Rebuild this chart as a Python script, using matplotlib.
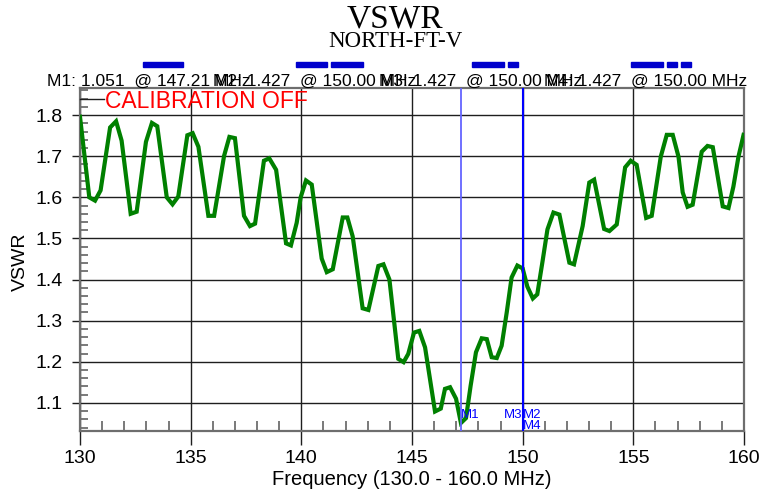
import matplotlib
matplotlib.use("Agg")
import matplotlib.pyplot as plt
from matplotlib.patches import Rectangle
from matplotlib.ticker import MultipleLocator

# ---- data ----
freq_mhz = [130.00, 130.42, 130.68, 130.93, 131.36, 131.63, 131.88, 132.29, 132.56, 132.98,
            133.25, 133.49, 133.92, 134.18, 134.44, 134.85, 135.09, 135.35, 135.80, 136.06,
            136.51, 136.75, 137.00, 137.41, 137.68, 137.91, 138.31, 138.55, 138.86, 139.31,
            139.53, 139.79, 139.97, 140.21, 140.47, 140.92, 141.15, 141.42, 141.87, 142.08,
            142.32, 142.77, 143.03, 143.48, 143.71, 143.98, 144.38, 144.62, 144.83, 145.09,
            145.33, 145.59, 146.04, 146.30, 146.49, 146.72, 146.99, 147.21, 147.44, 147.65,
            147.89, 148.15, 148.38, 148.60, 148.83, 149.05, 149.28, 149.50, 149.76, 150.00,
            150.21, 150.46, 150.66, 150.90, 151.12, 151.39, 151.66, 152.11, 152.32, 152.71,
            153.01, 153.23, 153.68, 153.92, 154.25, 154.63, 154.88, 155.15, 155.58, 155.83,
            156.24, 156.51, 156.78, 157.04, 157.23, 157.45, 157.68, 158.09, 158.35, 158.59,
            159.04, 159.30, 159.52, 159.75, 159.98]
vswr = [1.796, 1.600, 1.592, 1.617, 1.770, 1.785, 1.738, 1.560, 1.565, 1.735,
        1.781, 1.773, 1.600, 1.583, 1.602, 1.751, 1.756, 1.723, 1.555, 1.555,
        1.701, 1.747, 1.744, 1.555, 1.530, 1.536, 1.689, 1.695, 1.667, 1.488,
        1.483, 1.538, 1.600, 1.641, 1.631, 1.451, 1.418, 1.425, 1.551, 1.551,
        1.505, 1.330, 1.326, 1.433, 1.437, 1.400, 1.207, 1.199, 1.219, 1.271,
        1.275, 1.235, 1.079, 1.086, 1.134, 1.138, 1.110, 1.051, 1.063, 1.142,
        1.223, 1.257, 1.255, 1.211, 1.209, 1.239, 1.320, 1.405, 1.434, 1.427,
        1.383, 1.354, 1.364, 1.445, 1.522, 1.563, 1.558, 1.441, 1.437, 1.530,
        1.636, 1.643, 1.523, 1.518, 1.534, 1.673, 1.689, 1.679, 1.550, 1.555,
        1.699, 1.752, 1.752, 1.699, 1.612, 1.577, 1.582, 1.711, 1.725, 1.722,
        1.578, 1.574, 1.626, 1.699, 1.752]

x_ticks = [130, 135, 140, 145, 150, 155, 160]
y_ticks = [1.1, 1.2, 1.3, 1.4, 1.5, 1.6, 1.7, 1.8]

marker_names = ["M1", "M2", "M3", "M4"]
marker_freqs = [147.21, 150.00, 150.00, 150.00]
marker_vals = [1.051, 1.427, 1.427, 1.427]

title = "VSWR"
subtitle = "NORTH-FT-V"
xlabel = "Frequency (130.0 - 160.0 MHz)"
ylabel = "VSWR"
note = "CALIBRATION OFF"

SANS = ["Liberation Sans", "DejaVu Sans"]
SERIF = ["Liberation Serif", "DejaVu Serif"]
plt.rcParams["font.family"] = SANS

W, H = 779, 495
fig = plt.figure(figsize=(W / 100, H / 100), dpi=100)
L, R, T, B = 80, 744, 88, 431
ax = fig.add_axes([L / W, 1 - B / H, (R - L) / W, (B - T) / H])
ax.set_xlim(130, 160)
ax.set_ylim(1.0315, 1.866)

ax.set_axisbelow(True)
ax.grid(True, which="major", color="#1e1e1e", lw=1.0)
for s in ax.spines.values():
    s.set_color("#6e6e6e")
    s.set_linewidth(1.6)

ax.set_xticks(x_ticks)
ax.set_xticklabels([str(t) for t in x_ticks])
ax.set_yticks(y_ticks)
ax.set_yticklabels([f"{t:.1f}" for t in y_ticks])
ax.xaxis.set_minor_locator(MultipleLocator(1))
ax.yaxis.set_minor_locator(MultipleLocator(0.02))
ax.tick_params(axis="x", which="major", direction="out", length=10, width=1,
               color="#1e1e1e", labelsize=14, pad=3.5)
ax.tick_params(axis="y", which="major", direction="out", length=6, width=1,
               color="#1e1e1e", labelsize=14, pad=6.5)
ax.tick_params(axis="x", which="minor", direction="in", length=7.2, width=1.3,
               color="#6e6e6e")
ax.tick_params(axis="y", which="minor", direction="in", length=5.8, width=1.3,
               color="#6e6e6e")

ax.plot(freq_mhz, vswr, color="#008000", lw=3.0, solid_joinstyle="miter", zorder=3)

# marker lines
ax.axvline(marker_freqs[0], color="#6464ff", lw=1.3, zorder=4)
ax.axvline(marker_freqs[1], color="#0000ff", lw=1.5, zorder=4)
mk = dict(color="#0000ff", fontsize=9.5, zorder=5)
ax.text(marker_freqs[0], 1.064, marker_names[0], ha="left", va="baseline", **mk)
ax.text(marker_freqs[2], 1.064, marker_names[2], ha="right", va="baseline", **mk)
ax.text(marker_freqs[1], 1.064, marker_names[1], ha="left", va="baseline", **mk)
ax.text(marker_freqs[3], 1.037, marker_names[3], ha="left", va="baseline", **mk)

# calibration note with leader
ax.plot([130, 131.1], [1.84, 1.84], color="#1e1e1e", lw=1, clip_on=False, zorder=3)
fig.text(105 / W, 1 - 108 / H, note, color="#ff0000", fontsize=16.5, va="baseline")

# titles
fig.text(395 / W, 1 - 27 / H, title, family=SERIF, fontsize=24, ha="center", va="baseline")
fig.text(395 / W, 1 - 47 / H, subtitle, family=SERIF, fontsize=16.5, ha="center", va="baseline")

# marker readouts
starts = [47, 213.5, 379, 544]
for nm, f, v, x0 in zip(marker_names, marker_freqs, marker_vals, starts):
    fig.text(x0 / W, 1 - 86 / H, f"{nm}: {v:.3f}  @ {f:.2f} MHz", fontsize=12.5,
             ha="left", va="baseline")

# blue legend bars above the readouts
bars = [(142.6, 183.4), (295.7, 327), (331, 362.8), (472.2, 504), (508, 518.4),
        (631.2, 663), (667, 677), (681, 690.9)]
for a, b in bars:
    fig.patches.append(Rectangle((a / W, 1 - 66.7 / H), (b - a) / W, 5 / H,
                                 transform=fig.transFigure, color="#0000cc"))

fig.text(412 / W, 1 - 485 / H, xlabel, fontsize=14.5, ha="center", va="baseline")
fig.text(20 / W, 1 - 262 / H, ylabel, fontsize=14, rotation=90, ha="center", va="center")

fig.savefig("out.png", dpi=100)
